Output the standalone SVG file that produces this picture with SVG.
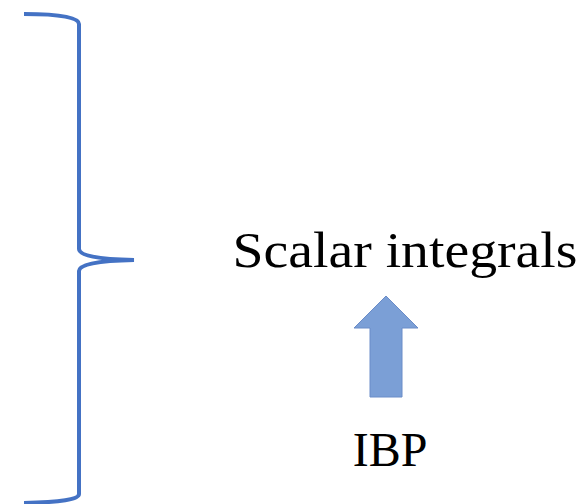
<svg xmlns="http://www.w3.org/2000/svg" width="585" height="504" viewBox="0 0 585 504">
<style>
.lbl{font-family:"Liberation Serif","DejaVu Serif",serif;fill:#000;text-anchor:middle}
.brace{fill:none;stroke:#4472C4;stroke-width:4}
</style>
<rect width="585" height="504" fill="#fff"/>
<g id="brace">
<path class="brace" d="M24,14 Q79,14 79,24 L79,249 Q79,259 134,260 Q79,261 79,271 L79,494 Q79,502 24,503"/>
</g>
<g id="scalar">
<text class="lbl" x="405" y="267" font-size="50" textLength="345" lengthAdjust="spacingAndGlyphs">Scalar integrals</text>
</g>
<g id="connectors">
<polygon points="386,296 418,328 402,328 402,397 370,397 370,328 354,328" fill="#7B9FD6" stroke="#6A8CC8" stroke-width="1"/>
</g>
<g id="ibp">
<text class="lbl" x="390" y="466" font-size="48">IBP</text>
</g>
</svg>
